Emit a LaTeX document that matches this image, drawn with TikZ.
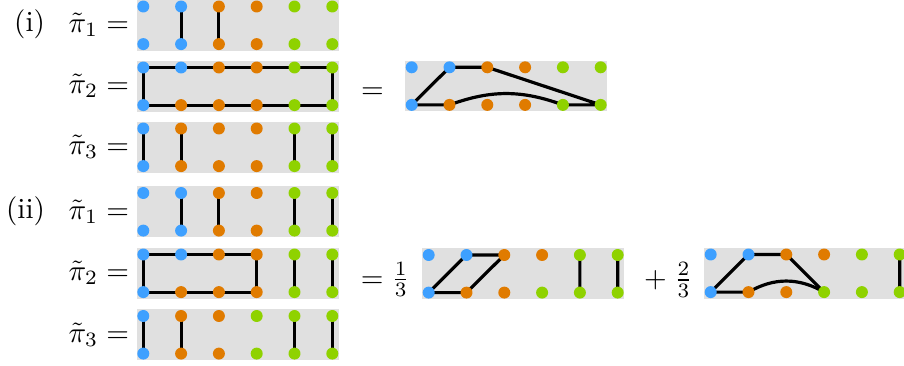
\documentclass[tikz,border=0pt]{standalone}
\usepackage{fix-cm}
\pgfdeclarelayer{background}
\pgfdeclarelayer{edges}
\pgfsetlayers{background,edges,main}
\definecolor{cB}{RGB}{62,160,255}
\definecolor{cO}{RGB}{224,123,0}
\definecolor{cG}{RGB}{143,210,0}
\definecolor{boxgray}{RGB}{224,224,224}
\tikzset{
  dot/.style={circle,inner sep=0pt,minimum size=4.36pt,draw=none},
  edge/.style={line width=1.16pt,black},
  panel/.style={fill=boxgray},
  lab/.style={inner sep=0pt,anchor=base east,font=\fontsize{10.6}{12.7}\selectfont},
}
\newcommand{\mkpanel}[5]{%
  \begin{pgfonlayer}{background}
    \fill[panel] (#2-6.5,#3-6.5) rectangle (#2+5*37.8+6.5,#3+37.6+6.5);
  \end{pgfonlayer}
  \foreach \c [count=\i] in {#4} \node[dot,fill=\c] (#1-t\i) at (#2+\i*37.8-37.8,#3) {};
  \foreach \c [count=\i] in {#5} \node[dot,fill=\c] (#1-b\i) at (#2+\i*37.8-37.8,#3+37.6) {};
}
\newcommand{\links}[1]{\begin{pgfonlayer}{edges}\draw[edge] #1;\end{pgfonlayer}}
\begin{document}
\begin{tikzpicture}[x=0.3636pt,y=-0.3636pt]
\useasboundingbox (0,0) rectangle (904,366);
% (i)
\mkpanel{a1}{143.3}{6.5}{cB,cB,cO,cO,cG,cG}{cB,cB,cO,cO,cG,cG}
\mkpanel{a2}{143.3}{67.5}{cB,cB,cO,cO,cG,cG}{cB,cO,cO,cO,cG,cG}
\mkpanel{a3}{143.3}{128.5}{cB,cO,cO,cO,cG,cG}{cB,cO,cO,cO,cG,cG}
\mkpanel{r1}{411.7}{67.3}{cB,cB,cO,cO,cG,cG}{cB,cO,cO,cO,cG,cG}
% (ii)
\mkpanel{c1}{143.3}{193}{cB,cB,cO,cO,cG,cG}{cB,cB,cO,cO,cG,cG}
\mkpanel{c2}{143.3}{254.5}{cB,cB,cO,cO,cG,cG}{cB,cO,cO,cO,cG,cG}
\mkpanel{c3}{143.3}{316}{cB,cO,cO,cG,cG,cG}{cB,cO,cO,cG,cG,cG}
\mkpanel{A}{428.7}{255}{cB,cB,cO,cO,cG,cG}{cB,cO,cO,cG,cG,cG}
\mkpanel{B}{710.7}{254.5}{cB,cB,cO,cO,cG,cG}{cB,cO,cO,cG,cG,cG}
% edges
\links{(a1-t2.center)--(a1-b2.center) (a1-t3.center)--(a1-b3.center)}
\links{(a2-t1.center)--(a2-t6.center)--(a2-b6.center)--(a2-b1.center)--cycle}
\links{(a3-t1.center)--(a3-b1.center) (a3-t2.center)--(a3-b2.center) (a3-t5.center)--(a3-b5.center) (a3-t6.center)--(a3-b6.center)}
\links{(r1-b1.center)--(r1-t2.center)--(r1-t3.center)--(r1-b6.center) (r1-b1.center)--(r1-b2.center) (r1-b5.center)--(r1-b6.center)}
\links{(r1-b2.center) to[bend left=20] (r1-b5.center)}
\links{(c1-t2.center)--(c1-b2.center) (c1-t3.center)--(c1-b3.center) (c1-t5.center)--(c1-b5.center) (c1-t6.center)--(c1-b6.center)}
\links{(c2-t1.center)--(c2-t4.center)--(c2-b4.center)--(c2-b1.center)--cycle (c2-t5.center)--(c2-b5.center) (c2-t6.center)--(c2-b6.center)}
\links{(c3-t1.center)--(c3-b1.center) (c3-t2.center)--(c3-b2.center) (c3-t5.center)--(c3-b5.center) (c3-t6.center)--(c3-b6.center)}
\links{(A-b1.center)--(A-t2.center)--(A-t3.center)--(A-b2.center)--cycle (A-t5.center)--(A-b5.center) (A-t6.center)--(A-b6.center)}
\links{(B-b1.center)--(B-t2.center)--(B-t3.center)--(B-b4.center) (B-b1.center)--(B-b2.center) (B-t6.center)--(B-b6.center)}
\links{(B-b2.center) to[bend left=30] (B-b4.center)}
% labels
\node[lab] (L1) at (45.5,31.8) {(i)};
\node[lab] (L2) at (45.5,218.8) {(ii)};
\node[lab] (p11) at (129.5,32.6) {$\tilde\pi_1 =$};
\node[lab] (p12) at (129.5,93.6) {$\tilde\pi_2 =$};
\node[lab] (p13) at (129.5,154.6) {$\tilde\pi_3 =$};
\node[lab] (p21) at (129.5,219.1) {$\tilde\pi_1 =$};
\node[lab] (p22) at (129.5,280.6) {$\tilde\pi_2 =$};
\node[lab] (p23) at (129.5,342.1) {$\tilde\pi_3 =$};
\node[lab,anchor=base west] (e1) at (360.5,98.3) {$=$};
\node[lab,anchor=base west] (e2) at (360.2,287.6) {$=$};
\node[lab,anchor=base west] (f1) at (391,286.6) {$\frac{1}{3}$};
\node[lab,anchor=base west] (pl) at (643.5,287.3) {$+$};
\node[lab,anchor=base west] (f2) at (673.7,287.3) {$\frac{2}{3}$};
\end{tikzpicture}
\end{document}
